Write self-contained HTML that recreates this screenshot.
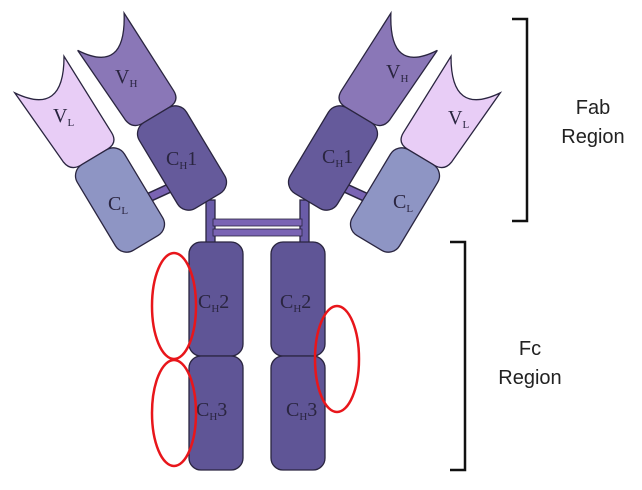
<!DOCTYPE html>
<html><head><meta charset="utf-8"><style>
body{margin:0;background:#fff}
svg{display:block}
text{font-family:"Liberation Serif",serif;fill:#2a2540}
.s{font-family:"Liberation Sans",sans-serif;fill:#222;font-size:20px}
</style></head><body>
<svg width="642" height="490" viewBox="0 0 642 490" xmlns="http://www.w3.org/2000/svg">
<defs>
<g id="arm" stroke="#2a2540" stroke-width="1.3">
  <line x1="150" y1="197" x2="174" y2="186" stroke="#2a2540" stroke-width="10"/>
  <line x1="150" y1="197" x2="174" y2="186" stroke="#7a64b4" stroke-width="7"/>
  <rect x="206" y="200" width="9" height="44" fill="#6a5ca8"/>
  <g transform="translate(120,200) rotate(-31)">
    <path d="M-35,-146 Q-5,-100 26,-152 L27.5,-62 Q27.5,-50 15.5,-50 L-15.5,-50 Q-27.5,-50 -29,-62 Z" fill="#e8cdf6"/>
    <rect x="-27.5" y="-50" width="55" height="100" rx="13" fill="#8e95c4"/>
  </g>
  <g transform="translate(182,158) rotate(-31)">
    <path d="M-34,-146 Q-5,-100 25,-154 L27.5,-62 Q27.5,-50 15.5,-50 L-15.5,-50 Q-27.5,-50 -29,-62 Z" fill="#8a77b7"/>
    <rect x="-27.5" y="-50" width="55" height="100" rx="13" fill="#655a9b"/>
  </g>
</g>
</defs>
<use href="#arm"/>
<use href="#arm" transform="translate(515,0) scale(-1,1)"/>
<rect x="213" y="219" width="89" height="7" fill="#7a64b4" stroke="#2a2540" stroke-width="0.8"/>
<rect x="213" y="229" width="89" height="7" fill="#7a64b4" stroke="#2a2540" stroke-width="0.8"/>
<g fill="#5f5596" stroke="#2a2540" stroke-width="1.3">
<rect x="189" y="242" width="54" height="114" rx="12"/>
<rect x="189" y="356" width="54" height="114" rx="12"/>
<rect x="271" y="242" width="54" height="114" rx="12"/>
<rect x="271" y="356" width="54" height="114" rx="12"/>
</g>
<g font-size="20">
<text x="115" y="83">V<tspan font-size="11" dy="4">H</tspan></text>
<text x="53" y="122">V<tspan font-size="11" dy="4">L</tspan></text>
<text x="166" y="165">C<tspan font-size="11" dy="4">H</tspan><tspan dy="-4">1</tspan></text>
<text x="108" y="210">C<tspan font-size="11" dy="4">L</tspan></text>
<text x="386" y="78">V<tspan font-size="11" dy="4">H</tspan></text>
<text x="448" y="124">V<tspan font-size="11" dy="4">L</tspan></text>
<text x="322" y="163">C<tspan font-size="11" dy="4">H</tspan><tspan dy="-4">1</tspan></text>
<text x="393" y="208">C<tspan font-size="11" dy="4">L</tspan></text>
<text x="198" y="308">C<tspan font-size="11" dy="4">H</tspan><tspan dy="-4">2</tspan></text>
<text x="280" y="308">C<tspan font-size="11" dy="4">H</tspan><tspan dy="-4">2</tspan></text>
<text x="196" y="416">C<tspan font-size="11" dy="4">H</tspan><tspan dy="-4">3</tspan></text>
<text x="286" y="416">C<tspan font-size="11" dy="4">H</tspan><tspan dy="-4">3</tspan></text>
</g>
<g fill="none" stroke="#e8161b" stroke-width="2.5">
<ellipse cx="174" cy="306" rx="22" ry="53"/>
<ellipse cx="174" cy="413" rx="22" ry="53"/>
<ellipse cx="337" cy="359" rx="22" ry="53"/>
</g>
<g fill="none" stroke="#111" stroke-width="2.5">
<path d="M512,19 H527 V221 H512"/>
<path d="M450,242 H465 V470 H450"/>
</g>
<text class="s" x="593" y="114" text-anchor="middle">Fab</text>
<text class="s" x="593" y="143" text-anchor="middle">Region</text>
<text class="s" x="530" y="355" text-anchor="middle">Fc</text>
<text class="s" x="530" y="384" text-anchor="middle">Region</text>
</svg>
</body></html>
